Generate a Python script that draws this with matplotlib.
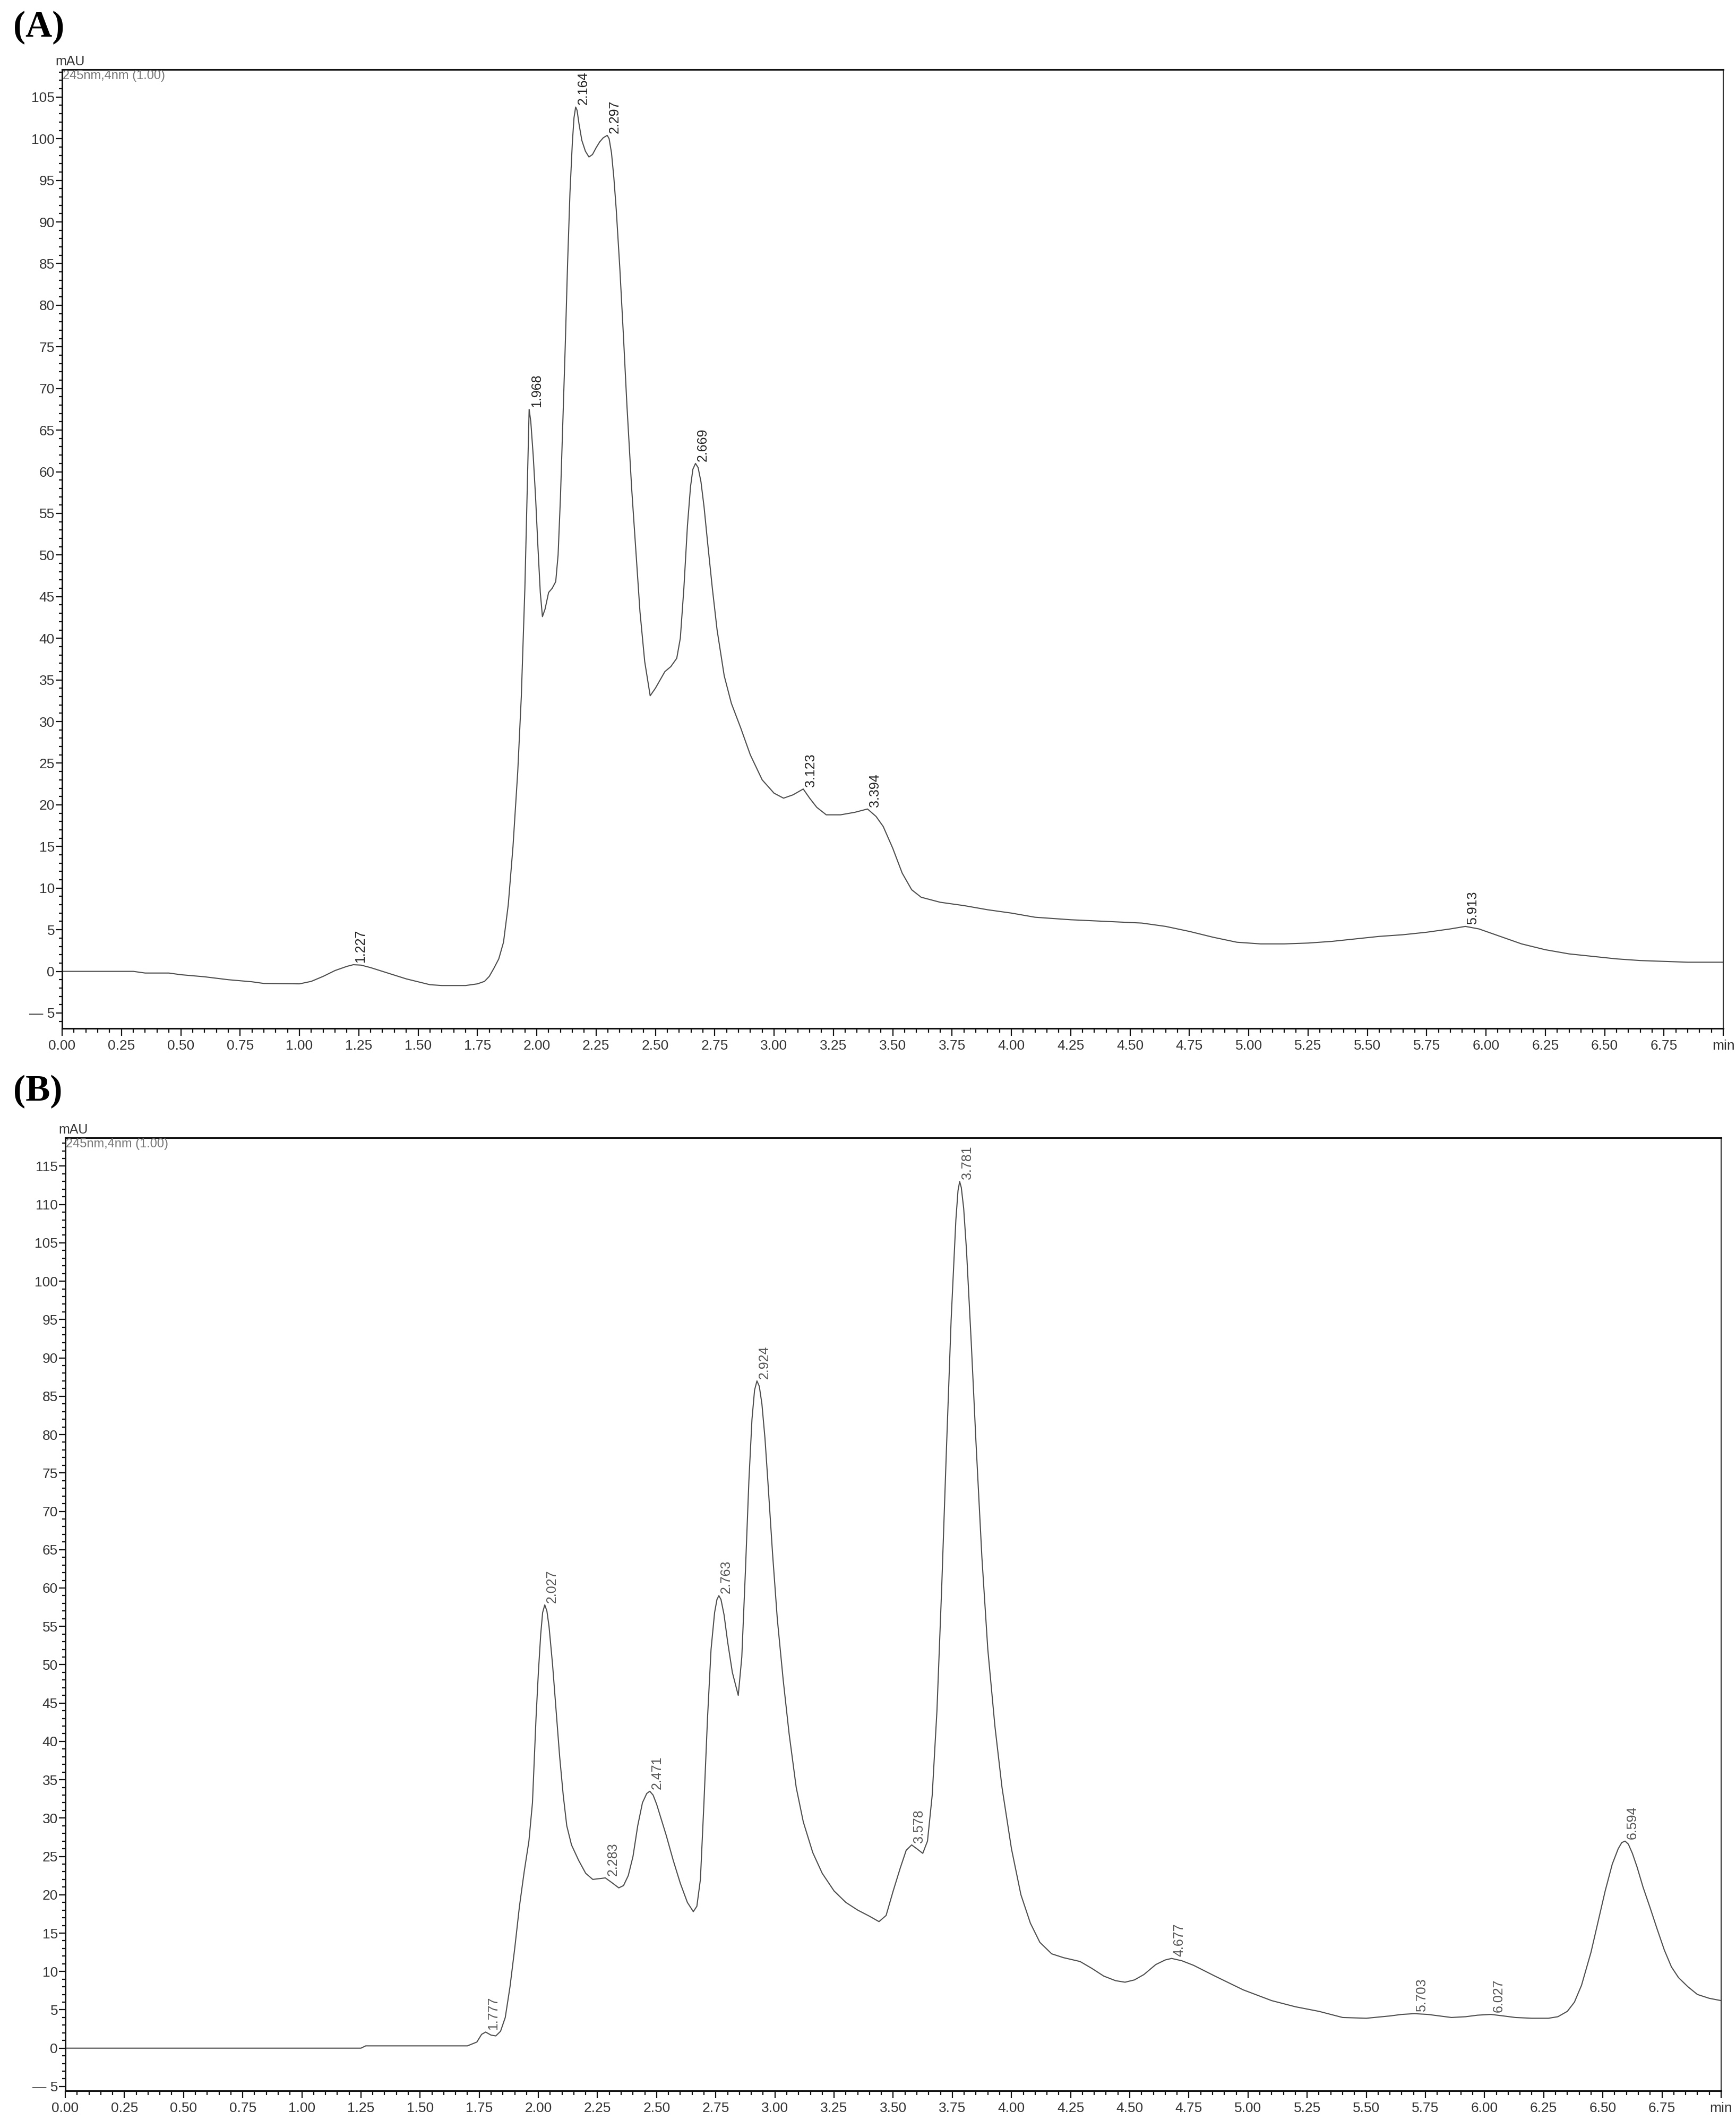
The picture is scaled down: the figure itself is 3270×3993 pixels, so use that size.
import numpy as np
import matplotlib
matplotlib.use('Agg')
import matplotlib.pyplot as plt
from matplotlib.ticker import MultipleLocator, FuncFormatter

plt.rcParams['font.family'] = ['Liberation Sans Narrow', 'Liberation Sans', 'DejaVu Sans']

# chromatogram (A)
time_a = [0.0, 0.3, 0.35, 0.45, 0.5, 0.6, 0.7, 0.8, 0.85, 1.0, 1.05, 1.1, 1.15, 1.2, 1.227, 1.26, 1.3,
          1.35, 1.4, 1.45, 1.5, 1.55, 1.6, 1.7, 1.75, 1.78, 1.8, 1.82, 1.84, 1.86, 1.88, 1.90, 1.92,
          1.935, 1.95, 1.96, 1.968, 1.975, 1.985, 1.995, 2.005, 2.015, 2.024, 2.035, 2.05, 2.065, 2.08,
          2.09, 2.1, 2.11, 2.12, 2.13, 2.14, 2.15, 2.157, 2.164, 2.17, 2.178, 2.19, 2.205, 2.22, 2.235,
          2.25, 2.265, 2.28, 2.297, 2.305, 2.315, 2.325, 2.335, 2.35, 2.365, 2.38, 2.40, 2.42, 2.435,
          2.455, 2.478, 2.5, 2.52, 2.54, 2.565, 2.59, 2.605, 2.62, 2.635, 2.648, 2.658, 2.669, 2.68,
          2.692, 2.705, 2.72, 2.74, 2.76, 2.79, 2.82, 2.86, 2.90, 2.95, 3.0, 3.04, 3.08, 3.123, 3.15,
          3.18, 3.22, 3.28, 3.34, 3.394, 3.43, 3.46, 3.5, 3.54, 3.58, 3.62, 3.7, 3.8, 3.9, 4.0, 4.1,
          4.25, 4.4, 4.55, 4.65, 4.75, 4.85, 4.95, 5.05, 5.15, 5.25, 5.35, 5.45, 5.55, 5.65, 5.75, 5.85,
          5.913, 5.97, 6.05, 6.15, 6.25, 6.35, 6.45, 6.55, 6.65, 6.75, 6.85, 7.0]
mau_a = [0, 0, -0.2, -0.2, -0.4, -0.65, -1.0, -1.25, -1.45, -1.5, -1.2, -0.6, 0.1, 0.6, 0.8, 0.75, 0.45,
         0.0, -0.45, -0.9, -1.25, -1.6, -1.7, -1.7, -1.5, -1.2, -0.6, 0.4, 1.5, 3.5, 8, 15, 24,
         33, 46, 58, 67.5, 66, 62, 57, 51, 45.5, 42.6, 43.5, 45.5, 46, 46.8,
         50, 57, 66, 75, 85, 93.5, 99.5, 102.5, 103.8, 103.4, 101.8, 99.8, 98.5, 97.8, 98.1,
         98.9, 99.6, 100.1, 100.4, 100.0, 98.3, 95.3, 91.5, 84.5, 76.5, 68, 58, 49.5, 43.2,
         37.2, 33.1, 34, 35, 36, 36.6, 37.6, 40, 46, 53.5, 58.2, 60.3, 61, 60.5,
         58.8, 55.8, 51.5, 46, 41, 35.5, 32.2, 29.2, 26, 23, 21.4, 20.8, 21.2, 21.9, 20.8,
         19.7, 18.8, 18.8, 19.1, 19.5, 18.6, 17.4, 14.8, 11.8, 9.8, 8.9, 8.3, 7.9, 7.4, 7.0, 6.5,
         6.2, 6.0, 5.8, 5.4, 4.8, 4.1, 3.5, 3.3, 3.3, 3.4, 3.6, 3.9, 4.2, 4.4, 4.7, 5.1,
         5.4, 5.1, 4.3, 3.3, 2.6, 2.1, 1.8, 1.5, 1.3, 1.2, 1.1, 1.1]
peaks_a = ['1.227', '1.968', '2.164', '2.297', '2.669', '3.123', '3.394', '5.913']

# chromatogram (B)
time_b = [0.0, 1.25, 1.27, 1.7, 1.74, 1.76, 1.777, 1.80, 1.82, 1.84, 1.86, 1.88, 1.90, 1.92, 1.94, 1.96,
          1.975, 1.99, 2.0, 2.01, 2.018, 2.027, 2.036, 2.045, 2.06, 2.075, 2.09, 2.105, 2.12, 2.14, 2.17,
          2.2, 2.23, 2.283, 2.31, 2.34, 2.36, 2.38, 2.40, 2.42, 2.44, 2.458, 2.471, 2.485, 2.50, 2.52,
          2.54, 2.57, 2.60, 2.63, 2.655, 2.67, 2.685, 2.70, 2.715, 2.73, 2.745, 2.755, 2.763, 2.772,
          2.785, 2.80, 2.82, 2.845, 2.86, 2.875, 2.89, 2.903, 2.914, 2.924, 2.934, 2.945, 2.958, 2.97,
          2.99, 3.01, 3.035, 3.06, 3.09, 3.12, 3.16, 3.2, 3.25, 3.3, 3.35, 3.4, 3.44, 3.47, 3.5, 3.53,
          3.555, 3.578, 3.60, 3.625, 3.645, 3.665, 3.685, 3.705, 3.725, 3.745, 3.765, 3.774, 3.781,
          3.788, 3.798, 3.81, 3.83, 3.85, 3.875, 3.9, 3.93, 3.96, 4.0, 4.04, 4.08, 4.12, 4.17, 4.22,
          4.29, 4.34, 4.39, 4.44, 4.48, 4.52, 4.56, 4.61, 4.65, 4.677, 4.72, 4.77, 4.86, 4.98, 5.1,
          5.2, 5.3, 5.4, 5.5, 5.6, 5.65, 5.703, 5.76, 5.81, 5.86, 5.92, 5.97, 6.027, 6.08, 6.13, 6.2,
          6.27, 6.31, 6.35, 6.38, 6.41, 6.45, 6.48, 6.51, 6.54, 6.565, 6.58, 6.594, 6.608, 6.625,
          6.645, 6.67, 6.70, 6.73, 6.76, 6.79, 6.82, 6.86, 6.9, 6.95, 7.0]
mau_b = [0, 0, 0.3, 0.3, 0.8, 1.8, 2.1, 1.7, 1.6, 2.2, 4, 8, 13, 18.5, 23, 27,
         32, 43, 49, 54, 56.8, 57.8, 57.0, 55, 50, 44, 38, 33, 29, 26.5, 24.5,
         22.8, 22, 22.2, 21.6, 20.9, 21.2, 22.5, 25, 29, 32, 33.2, 33.5, 33.0, 31.8, 29.8,
         27.8, 24.5, 21.5, 19, 17.8, 18.5, 22, 32, 43, 52, 56.8, 58.5, 59, 58.5,
         56.5, 53, 49, 46, 51, 62, 74, 82, 85.8, 87, 86.3, 84, 79.5, 74,
         64.5, 56, 48, 41, 34, 29.5, 25.5, 22.8, 20.5, 19, 18, 17.2, 16.5, 17.3, 20.5, 23.5,
         25.8, 26.5, 26, 25.4, 27, 33, 44, 60, 78, 95, 108, 111.8, 113,
         112.2, 109.5, 104, 92, 79, 64, 52, 42, 34, 26, 20, 16.3, 13.8, 12.3, 11.8,
         11.3, 10.4, 9.4, 8.8, 8.6, 8.9, 9.6, 10.9, 11.5, 11.7, 11.4, 10.8, 9.4, 7.6, 6.2,
         5.4, 4.8, 4.0, 3.9, 4.2, 4.4, 4.5, 4.4, 4.2, 4.0, 4.1, 4.3, 4.4, 4.2, 4.0, 3.9,
         3.9, 4.1, 4.8, 6, 8.2, 12.5, 16.5, 20.5, 24, 26, 26.8, 27, 26.6, 25.4,
         23.6, 21.0, 18.3, 15.5, 12.8, 10.6, 9.2, 8.0, 7.0, 6.5, 6.2]
peaks_b = ['1.777', '2.027', '2.283', '2.471', '2.763', '2.924', '3.578', '3.781', '4.677',
           '5.703', '6.027', '6.594']

panel_names = ['(A)', '(B)']
detector_text = '245nm,4nm (1.00)'


def y_label(v, pos):
    if v < 0:
        return '\u2014 %d' % abs(v)
    return '%d' % v


def x_label(v, pos):
    if abs(v - 7.0) < 1e-6:
        return 'min'
    return '%.2f' % v


def draw_panel(ax, t, y, peaks, ylim, ymax_tick, label_color):
    ax.plot(t, y, color='#4d4d4d', lw=1.5)
    ax.set_xlim(0, 7.0)
    ax.set_ylim(*ylim)
    ax.xaxis.set_major_locator(MultipleLocator(0.25))
    ax.xaxis.set_minor_locator(MultipleLocator(0.05))
    ax.set_yticks(np.arange(-5, ymax_tick + 1, 5))
    ax.yaxis.set_minor_locator(MultipleLocator(1))
    ax.xaxis.set_major_formatter(FuncFormatter(x_label))
    ax.yaxis.set_major_formatter(FuncFormatter(y_label))
    ax.tick_params(axis='both', which='both', direction='out', color='#111', width=1.6)
    ax.tick_params(axis='y', which='major', length=8.5, pad=1.5, labelsize=19, labelcolor='#333')
    ax.tick_params(axis='y', which='minor', length=4.5)
    ax.tick_params(axis='x', which='major', length=10, pad=5, labelsize=19, labelcolor='#333')
    ax.tick_params(axis='x', which='minor', length=6)
    for side in ['left', 'bottom', 'top']:
        ax.spines[side].set_linewidth(2.2)
        ax.spines[side].set_color('#111')
    ax.spines['right'].set_linewidth(1.5)
    ax.spines['right'].set_color('#333')
    ax.annotate('mAU', xy=(0, 1), xycoords='axes fraction', xytext=(-9, 2),
                textcoords='offset points', ha='left', va='bottom', fontsize=18, color='#333')
    ax.annotate(detector_text, xy=(0, 1), xycoords='axes fraction', xytext=(1, -1),
                textcoords='offset points', ha='left', va='top', fontsize=17, color='#777')
    for p in peaks:
        pt = float(p)
        pv = np.interp(pt, t, y)
        ax.annotate(p, xy=(pt, pv), xytext=(1.5, 3), textcoords='offset points',
                    rotation=90, rotation_mode='anchor', ha='left', va='top',
                    fontsize=18, color=label_color)


fig = plt.figure(figsize=(32.7, 39.93), dpi=100)
ax1 = fig.add_axes([0.03578, 0.51490, 0.95690, 0.45229])
ax2 = fig.add_axes([0.03761, 0.01377, 0.95380, 0.44954])

draw_panel(ax1, time_a, mau_a, peaks_a, (-6.85, 108.3), 105, '#222')
draw_panel(ax2, time_b, mau_b, peaks_b, (-5.56, 118.7), 115, '#555')

fig.text(0.0076, 1 - 20 / 3993, panel_names[0], family=['Liberation Serif', 'DejaVu Serif'],
         fontweight='bold', fontsize=50, va='top', ha='left')
fig.text(0.0076, 1 - 2024 / 3993, panel_names[1], family=['Liberation Serif', 'DejaVu Serif'],
         fontweight='bold', fontsize=50, va='top', ha='left')

fig.savefig('out.png', dpi=100)
